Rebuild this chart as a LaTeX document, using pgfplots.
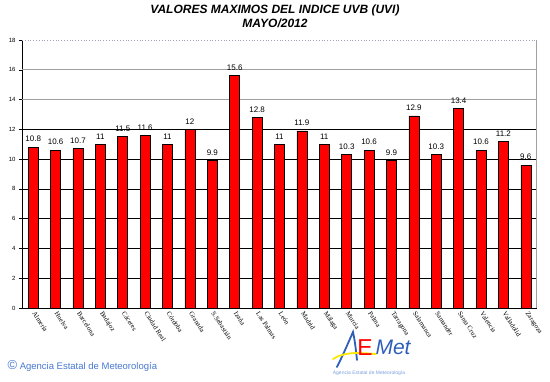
\documentclass[border=0pt]{standalone}
\usepackage{fontspec}
\setmainfont{Liberation Sans}
\newfontfamily\serifx{Liberation Serif}
\usepackage{pgfplots}
\pgfplotsset{compat=1.18}
\definecolor{barred}{RGB}{255,0,0}
\definecolor{aemetblue}{RGB}{45,95,185}
\definecolor{footblue}{RGB}{70,120,210}
\definecolor{gridgray}{RGB}{160,160,160}
\definecolor{topgray}{RGB}{170,160,190}
\begin{document}
\begin{tikzpicture}[x=1pt,y=1pt]
\path[use as bounding box] (0,0) rectangle (550,381);
\node[font=\bfseries\itshape\fontsize{12}{14}\selectfont] at (275,370.5) {VALORES MAXIMOS DEL INDICE UVB (UVI)};
\node[font=\bfseries\itshape\fontsize{12}{14}\selectfont] at (275,357.5) {MAYO/2012};
\begin{axis}[
  at={(22pt,73pt)}, anchor=south west,
  scale only axis, width=515pt, height=268pt,
  xmin=-0.5, xmax=22.5, ymin=0, ymax=18,
  axis x line*=bottom, axis y line*=left,
  axis line style={black, line width=0.6pt, -},
  ytick={0,2,...,18},
  yticklabel style={font=\fontsize{6}{7}\selectfont},
  /pgf/number format/assume math mode=true,
  tick align=outside,
  major tick length=3pt,
  y tick style={black, line width=0.5pt},
  xtick={0,...,22},
  x tick style={draw=none},
  minor xtick={-0.5,0.5,...,22.5},
  minor x tick style={black, line width=0.5pt},
  minor tick length=3pt,
  xticklabels={Almería,Huelva,Barcelona,Badajoz,Cáceres,Ciudad Real,Córdoba,Granada,S.Sebastián,Izaña,Las Palmas,León,Madrid,Málaga,Murcia,Palma,Tarragona,Salamanca,Santander,Santa Cruz,Valencia,Valladolid,Zaragoza},
  xticklabel style={font=\serifx\fontsize{6.8}{7}\selectfont, rotate=-57, anchor=west, xshift=-2pt, yshift=0pt},
  ybar, bar width=10pt,
  nodes near coords,
  nodes near coords style={font=\fontsize{8}{9}\selectfont, black, yshift=1.5pt},
  clip=false,
]
\foreach \yy in {2,4,...,12} {
  \edef\tmp{\noexpand\draw[black, line width=0.6pt] (axis cs:-0.5,\yy) -- (axis cs:22.5,\yy);}\tmp
}
\draw[gridgray, line width=1.2pt] (axis cs:-0.5,14) -- (axis cs:22.5,14);
\draw[gridgray, line width=1.2pt] (axis cs:-0.5,16) -- (axis cs:22.5,16);
\draw[topgray, line width=0.8pt, dotted] (axis cs:-0.5,18) -- (axis cs:22.5,18);
\draw[gridgray, line width=1pt] (axis cs:22.5,0) -- (axis cs:22.5,18);
\addplot[fill=barred, draw=black, line width=0.6pt] coordinates {
(0,10.8) (1,10.6) (2,10.7) (3,11) (4,11.5) (5,11.6) (6,11) (7,12) (8,9.9) (9,15.6) (10,12.8) (11,11) (12,11.9) (13,11) (14,10.3) (15,10.6) (16,9.9) (17,12.9) (18,10.3) (19,13.4) (20,10.6) (21,11.2) (22,9.6)
};
\end{axis}
% footer
\node[anchor=west, text=footblue, font=\fontsize{9.5}{11}\selectfont] at (4,15) {{\fontsize{13}{13}\selectfont\textcopyright}\ Agencia Estatal de Meteorología};
% AEMet logo
\draw[aemetblue, line width=1.8pt, line cap=round] (337,14) .. controls (344,28) and (349,40) .. (353,49) .. controls (355,40) and (356,30) .. (357,21);
\draw[yellow!90!orange, line width=1.8pt, line cap=round] (333,22) .. controls (345,30) and (362,28) .. (376,27);
\node[text=red, font=\fontsize{23}{23}\selectfont] at (365,33) {E};
\node[text=aemetblue, font=\itshape\fontsize{21}{21}\selectfont, anchor=west] at (372,34) {Met};
\node[text=footblue!70, font=\fontsize{5}{6}\selectfont] at (369,8) {Agencia Estatal de Meteorología};
\end{tikzpicture}
\end{document}
